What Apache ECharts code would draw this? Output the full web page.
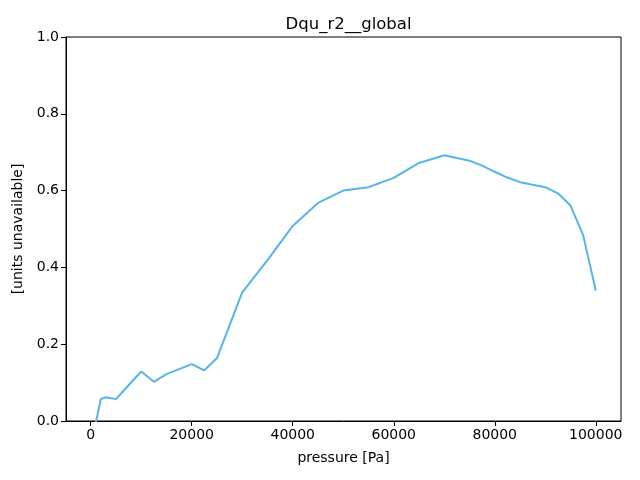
<!DOCTYPE html>
<html>
<head>
<meta charset="utf-8">
<script src="https://cdn.jsdelivr.net/npm/echarts@6/dist/echarts.min.js"></script>
<style>html,body{margin:0;padding:0;background:#fff;}#c{width:640px;height:480px;}</style>
</head>
<body>
<div id="c"></div>
<script>
const pressure = [100, 200, 300, 500, 700, 1000, 2000, 3000, 5000, 7000, 10000, 12500, 15000, 17500, 20000, 22500, 25000, 30000, 35000, 40000, 45000, 50000, 55000, 60000, 65000, 70000, 75000, 77500, 80000, 82500, 85000, 87500, 90000, 92500, 95000, 97500, 100000];
const values = [-0.05, -0.05, -0.04, -0.03, -0.02, -0.005, 0.057, 0.062, 0.057, 0.086, 0.129, 0.102, 0.122, 0.135, 0.148, 0.132, 0.164, 0.335, 0.419, 0.508, 0.568, 0.600, 0.609, 0.633, 0.672, 0.692, 0.678, 0.665, 0.649, 0.634, 0.622, 0.615, 0.609, 0.593, 0.561, 0.484, 0.340];
const xTicks = [0, 20000, 40000, 60000, 80000, 100000];
const yTicks = [0, 0.2, 0.4, 0.6, 0.8, 1.0];
const title = 'Dqu_r2__global';
const xName = 'pressure [Pa]';
const yName = '[units unavailable]';

const span = pressure[pressure.length - 1] - pressure[0];
const xMin = pressure[0] - span * 0.05;
const xMax = pressure[pressure.length - 1] + span * 0.05;
const font = 'DejaVu Sans';

const chart = echarts.init(document.getElementById('c'), null, {renderer: 'canvas'});
chart.setOption({
  animation: false,
  backgroundColor: '#fff',
  title: {
    text: title, left: 343.5, textAlign: 'center', top: 11,
    textStyle: {fontFamily: font, fontSize: 16.5, fontWeight: 'normal', color: '#000'}
  },
  grid: {left: 66, right: 19, top: 37, bottom: 59, show: true, borderColor: '#000', borderWidth: 1, backgroundColor: 'transparent'},
  xAxis: {
    type: 'value', min: xMin, max: xMax,
    name: xName, nameLocation: 'middle', nameGap: 30,
    nameTextStyle: {fontFamily: font, fontSize: 14, color: '#000'},
    axisLine: {show: true, onZero: false, lineStyle: {color: '#000', width: 1}},
    axisTick: {show: true, length: 5, inside: false, customValues: xTicks, lineStyle: {color: '#000'}},
    axisLabel: {customValues: xTicks, fontFamily: font, fontSize: 14, color: '#000', margin: 7, formatter: v => String(Math.round(v))},
    splitLine: {show: false}
  },
  yAxis: {
    type: 'value', min: 0, max: 1, interval: 0.2,
    name: yName, nameLocation: 'middle', nameGap: 41, nameRotate: 90,
    nameTextStyle: {fontFamily: font, fontSize: 14, color: '#000'},
    axisLine: {show: true, onZero: false, lineStyle: {color: '#000', width: 1}},
    axisTick: {show: true, length: 5, inside: false, customValues: yTicks, lineStyle: {color: '#000'}},
    axisLabel: {customValues: yTicks, fontFamily: font, fontSize: 14, color: '#000', margin: 7, formatter: v => v.toFixed(1)},
    splitLine: {show: false}
  },
  series: [{
    type: 'line',
    data: pressure.map((p, i) => [p, values[i]]),
    showSymbol: false,
    clip: true,
    lineStyle: {color: '#56b4e9', width: 2},
    itemStyle: {color: '#56b4e9'}
  }]
});
</script>
</body>
</html>
